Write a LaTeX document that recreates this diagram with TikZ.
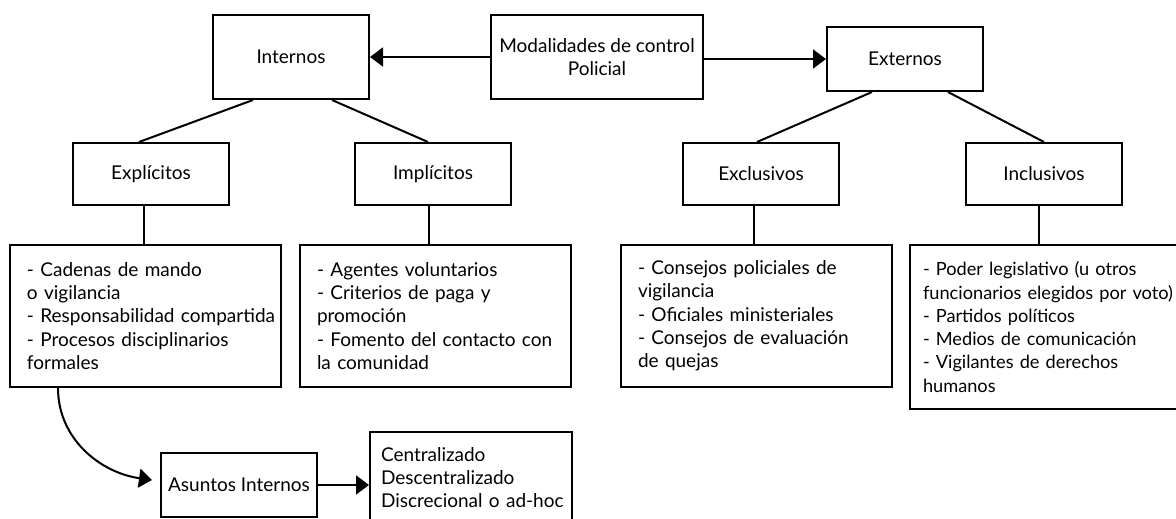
\documentclass[tikz,border=0pt]{standalone}
\usepackage{fontspec}
\setmainfont{Lato}
\usetikzlibrary{arrows.meta}
\hyphenpenalty=10000
\exhyphenpenalty=10000

\begin{document}
\begin{tikzpicture}[x=1pt,y=-1pt,line width=2pt]
        %
        % `block' is used for the headings, `listbox' for the item lists.
        % `arrow' is used for the filled arrow heads.
        \tikzstyle{block} = [draw,fill=white,minimum width=156pt,minimum height=62pt,inner sep=0pt,align=center,font=\fontsize{19}{23.3}\selectfont]
        \tikzstyle{listbox} = [draw,fill=white,anchor=north west,inner xsep=4pt,inner ysep=0pt,text width=263pt,align=left,minimum height=142pt,execute at begin node={\leftskip=13pt},font=\fontsize{19}{23.3}\selectfont]
        \tikzstyle{arrow} = [-{Triangle[length=13pt,width=19pt]}]
        %
        \useasboundingbox (0,0) rectangle (1176,519);
        %
        % Top row
        \node[block,minimum width=212pt,minimum height=84pt] (modal) at (597,57) {Modalidades de control\\Policial};
        \node[block,minimum height=84pt] (internos) at (291,57) {Internos};
        \node[block,minimum height=64pt] (externos) at (905,59) {Externos};
        \draw[arrow] (modal.west) -- (internos.east);
        \draw[arrow] (modal.east |- externos.west) -- (externos.west);
        %
        % Second row
        \node[block] (explicitos) at (151,174) {Explícitos};
        \node[block] (implicitos) at (433,174) {Implícitos};
        \node[block] (exclusivos) at (761,174) {Exclusivos};
        \node[block] (inclusivos) at (1044,174) {Inclusivos};
        \draw ([xshift=-38pt]internos.south) -- ([xshift=-12pt]explicitos.north);
        \draw ([xshift=41pt]internos.south) -- ([xshift=-5pt]implicitos.north);
        \draw ([xshift=-33pt]externos.south) -- ([xshift=-4pt]exclusivos.north);
        \draw ([xshift=43pt]externos.south) -- (inclusivos.north);
        %
        % Lists
        \node[listbox] (explist) at (9,244) {- Cadenas de mando\\o vigilancia\\- Responsabilidad compartida\\- Procesos disciplinarios\\formales};
        \node[listbox] (implist) at (299,244) {- Agentes voluntarios\\- Criterios de paga y\\promoción\\- Fomento del contacto con\\la comunidad};
        \node[listbox] (exclist) at (620,244) {- Consejos policiales de\\vigilancia\\- Oficiales ministeriales\\- Consejos de evaluación\\de quejas};
        \node[listbox,text width=300pt,minimum height=164pt,execute at begin node={\leftskip=9pt},font=\fontsize{18.2}{23.3}\selectfont] (inclist) at (909,244) {- Poder legislativo (u otros\\funcionarios elegidos por voto)\\- Partidos políticos\\- Medios de comunicación\\- Vigilantes de derechos\\humanos};
        \draw ([xshift=-7pt]explicitos.south) -- ([xshift=-7pt]explicitos.south |- explist.north);
        \draw ([xshift=-4pt]implicitos.south) -- ([xshift=-4pt]implicitos.south |- implist.north);
        \draw ([xshift=-7pt]exclusivos.south) -- ([xshift=-7pt]exclusivos.south |- exclist.north);
        \draw ([xshift=-5pt]inclusivos.south) -- ([xshift=-5pt]inclusivos.south |- inclist.north);
        %
        % Bottom row
        \node[block,minimum height=64pt] (asuntos) at (239,485) {Asuntos Internos};
        \node[listbox,text width=192pt,inner xsep=5pt,minimum height=91pt,execute at begin node={\leftskip=6pt}] (central) at (369,431) {Centralizado\\Descentralizado\\Discrecional o ad-hoc};
        \draw[arrow] ([xshift=49pt]explist.south west) to[out=-90,in=172] ([xshift=-8pt,yshift=5pt]asuntos.west);
        \draw[arrow] (asuntos.east) -- (asuntos.east -| central.west);
        %
\end{tikzpicture}
\end{document}
